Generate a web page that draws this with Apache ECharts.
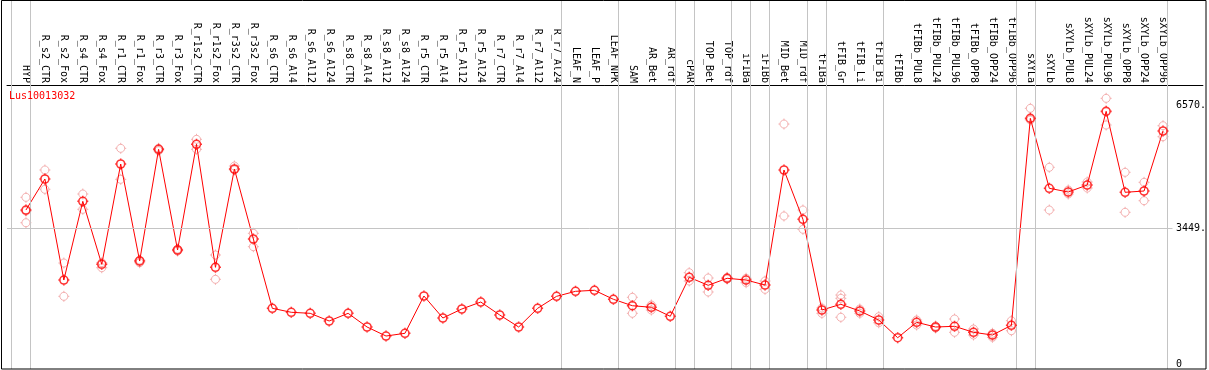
<!DOCTYPE html>
<html>
<head>
<meta charset="utf-8">
<script src="https://cdn.jsdelivr.net/npm/echarts@6/dist/echarts.min.js"></script>
<style>
    html, body { margin: 0; padding: 0; background: #fff; }
    #chart { width: 1209px; height: 370px; }
</style>
</head>
<body>
<div id="chart"></div>
<script>
// ====================== data ======================
var geneName = 'Lus10013032';

var categories = ['HYP', 'R_s2_CTR', 'R_s2_Fox', 'R_s4_CTR', 'R_s4_Fox', 'R_r1_CTR', 'R_r1_Fox', 'R_r3_CTR', 'R_r3_Fox',
    'R_r1s2_CTR', 'R_r1s2_Fox', 'R_r3s2_CTR', 'R_r3s2_Fox', 'R_s6_CTR', 'R_s6_Al4', 'R_s6_Al12', 'R_s6_Al24',
    'R_s8_CTR', 'R_s8_Al4', 'R_s8_Al12', 'R_s8_Al24', 'R_r5_CTR', 'R_r5_Al4', 'R_r5_Al12', 'R_r5_Al24',
    'R_r7_CTR', 'R_r7_Al4', 'R_r7_Al12', 'R_r7_Al24', 'LEAF_N', 'LEAF_P', 'LEAF_NPK', 'SAM', 'AR_Bet', 'AR_rdf',
    'cPAR', 'TOP_Bet', 'TOP_rdf', 'iFIBa', 'iFIBb', 'MID_Bet', 'MID_rdf', 'tFIBa', 'tFIB_Gr', 'tFIB_Li', 'tFIB_Bi',
    'tFIBb', 'tFIBb_PUL8', 'tFIBb_PUL24', 'tFIBb_PUL96', 'tFIBb_OPP8', 'tFIBb_OPP24', 'tFIBb_OPP96',
    'sXYLa', 'sXYLb', 'sXYLb_PUL8', 'sXYLb_PUL24', 'sXYLb_PUL96', 'sXYLb_OPP8', 'sXYLb_OPP24', 'sXYLb_OPP96'];

// mean expression per sample
var means = [3913, 4701, 2134, 4134, 2533, 5082, 2617, 5456, 2897,
    5583, 2457, 4955, 3176, 1415, 1314, 1288, 1093,
    1288, 940, 711, 780, 1728, 1169, 1398, 1575,
    1245, 940, 1415, 1720, 1847, 1873, 1644, 1481, 1441, 1212,
    2203, 2000, 2178, 2134, 2007, 4930, 3677, 1372, 1517, 1347, 1118,
    668, 1060, 940, 958, 805, 737, 983,
    6243, 4465, 4371, 4548, 6421, 4363, 4396, 5921];

// replicate values per sample (light circles)
var replicates = [[4236, 3888, 3590], [4930, 4439], [2566, 1720], [4320, 3931], [2574, 2447], [5481, 4693], [2574, 2643], [5481, 5420], [2922, 2871],
    [5710, 5456], [2770, 2152], [5031, 4930], [3321, 2981], [], [], [], [],
    [], [], [], [], [], [], [], [],
    [], [], [], [], [], [], [], [1695, 1288], [1499, 1372], [],
    [2320, 2109], [2185, 1830], [2203, 2160], [2178, 2066], [2109, 1898], [6098, 3761], [3913, 3423], [1288, 1423], [1753, 1669, 1187], [1288, 1398], [1202, 1049],
    [], [1118, 991], [965, 915], [1143, 805], [889, 737], [780, 678], [1100, 846],
    [6497, 6200], [4998, 3913], [4421, 4320], [4625, 4472], [6751, 6073], [4871, 3855], [4617, 4150], [6055, 5776]];

// group separators come after these sample indexes
var groupEnds = [-1, 0, 28, 31, 34, 35, 37, 38, 39, 41, 42, 45, 52, 53, 60];

var yTicks = [0, 3449, 6570];
var refLine = 3449;

// ====================== layout ======================
var colW = 19;                     // px per sample
var xMin = -1;
var gridLeft = 7, gridRight = 3;
var xMax = xMin + (1209 - gridRight - gridLeft) / colW;
var sepOffset = 4.5 / colW;

// circle with four small ticks
var ringSymbol = 'path://M0,-4C2.21,-4,4,-2.21,4,0C4,2.21,2.21,4,0,4C-2.21,4,-4,2.21,-4,0C-4,-2.21,-2.21,-4,0,-4Z' +
    'M0,-5.5L0,-4M0,4L0,5.5M-5.5,0L-4,0M4,0L5.5,0';

var meanData = [];
var repData = [];
for (var i = 0; i < categories.length; i++) {
    meanData.push([i, means[i]]);
    for (var k = 0; k < replicates[i].length; k++) {
        repData.push([i, replicates[i][k]]);
    }
}

var sepData = groupEnds.map(function (g) {
    return { xAxis: g + sepOffset };
});

var font = '"DejaVu Sans Mono", monospace';

var option = {
    animation: false,
    backgroundColor: '#fff',
    title: {
        text: geneName,
        left: 9,
        top: 91,
        padding: 0,
        textStyle: { color: '#ff0000', fontSize: 10, fontWeight: 'normal', fontFamily: font }
    },
    grid: { left: gridLeft, right: gridRight, top: 0, bottom: 1, containLabel: false },
    xAxis: {
        type: 'value',
        position: 'top',
        offset: -85,
        min: xMin,
        max: xMax,
        interval: 1,
        axisLine: { show: true, onZero: false, lineStyle: { color: '#000', width: 1 } },
        axisTick: { show: false },
        splitLine: { show: false },
        axisLabel: {
            rotate: 90,
            margin: 2,
            color: '#000',
            fontSize: 10,
            fontFamily: font,
            formatter: function (v) {
                return categories[v] || '';
            }
        }
    },
    yAxis: {
        type: 'value',
        position: 'right',
        min: -127,
        max: 9250,
        axisLine: { show: false },
        axisTick: { show: false },
        splitLine: { show: false },
        axisLabel: {
            inside: true,
            align: 'left',
            verticalAlign: 'middle',
            margin: 27,
            color: '#000',
            fontSize: 10,
            fontFamily: font,
            customValues: yTicks,
            formatter: function (v) {
                return v === 0 ? '0' : v + '.';
            }
        }
    },
    graphic: [{
        type: 'rect',
        shape: { x: 1.5, y: 0.5, width: 1204.5, height: 368.5 },
        style: { fill: 'none', stroke: '#000', lineWidth: 1 },
        z: 100
    }],
    series: [{
            name: 'replicates',
            type: 'scatter',
            data: repData,
            symbol: ringSymbol,
            symbolSize: 11,
            itemStyle: { color: 'transparent', borderColor: '#f09c9c', borderWidth: 1 },
            z: 3,
            markLine: {
                silent: true,
                symbol: ['none', 'none'],
                label: { show: false },
                lineStyle: { color: '#c4c4c4', width: 1, type: 'solid' },
                data: sepData.concat([[{ coord: [xMin, refLine] }, { coord: [categories.length - 0.5, refLine] }]])
            }
        },
        {
            name: 'mean',
            type: 'line',
            data: meanData,
            showSymbol: false,
            symbol: 'none',
            lineStyle: { color: '#ff0000', width: 1 },
            z: 4
        },
        {
            name: 'meanPts',
            type: 'scatter',
            data: meanData,
            symbol: ringSymbol,
            symbolSize: 11,
            itemStyle: { color: 'transparent', borderColor: '#ff0000', borderWidth: 1.6 },
            z: 5
        }
    ]
};

echarts.init(document.getElementById('chart')).setOption(option);
</script>
</body>
</html>
